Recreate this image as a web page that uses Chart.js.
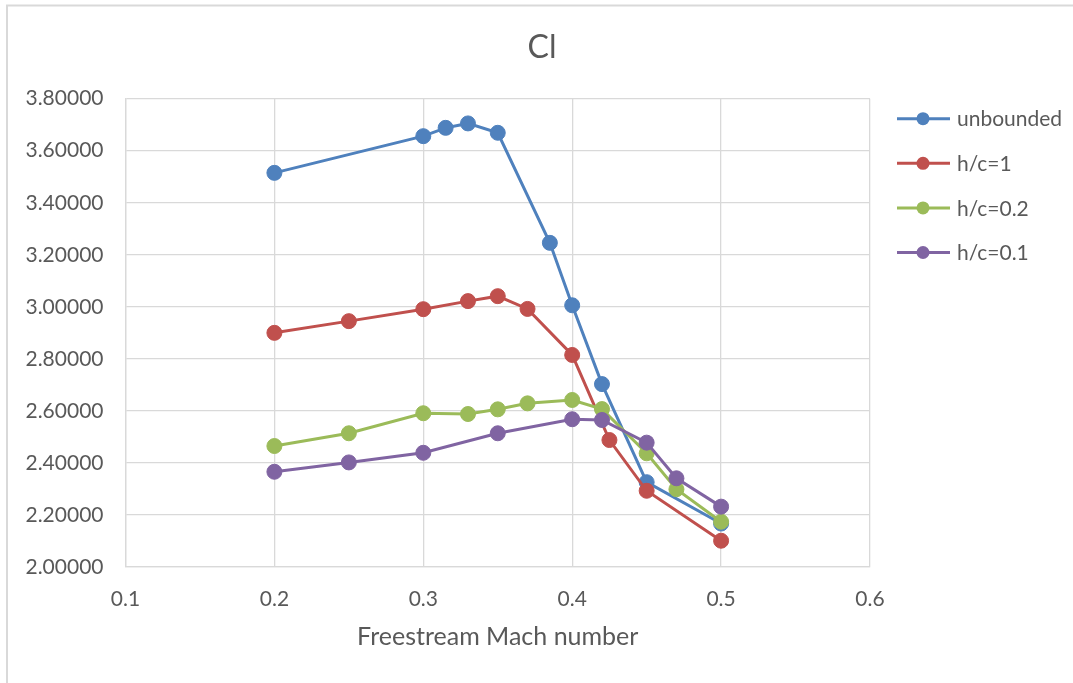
<!DOCTYPE html>
<html>
<head>
<meta charset="utf-8">
<title>Cl</title>
<script src="https://cdn.jsdelivr.net/npm/chart.js@4.4.1/dist/chart.umd.min.js"></script>
<style>
    html, body { margin: 0; padding: 0; background: #fff; }
    #canvas1 { display: block; }
</style>
</head>
<body>
<canvas id="canvas1" width="1073" height="683"></canvas>
<script>
// values
const seriesNames = ['unbounded', 'h/c=1', 'h/c=0.2', 'h/c=0.1'];

const machUnbounded = [0.2, 0.3, 0.315, 0.33, 0.35, 0.385, 0.4, 0.42, 0.45, 0.5];
const clUnbounded = [3.515, 3.656, 3.688, 3.705, 3.669, 3.246, 3.006, 2.703, 2.326, 2.167];

const machHc1 = [0.2, 0.25, 0.3, 0.33, 0.35, 0.37, 0.4, 0.425, 0.45, 0.5];
const clHc1 = [2.900, 2.945, 2.991, 3.022, 3.041, 2.992, 2.815, 2.488, 2.293, 2.101];

const machHc02 = [0.2, 0.25, 0.3, 0.33, 0.35, 0.37, 0.4, 0.42, 0.45, 0.47, 0.5];
const clHc02 = [2.465, 2.514, 2.591, 2.588, 2.606, 2.629, 2.642, 2.607, 2.437, 2.299, 2.174];

const machHc01 = [0.2, 0.25, 0.3, 0.35, 0.4, 0.42, 0.45, 0.47, 0.5];
const clHc01 = [2.366, 2.402, 2.439, 2.514, 2.568, 2.565, 2.478, 2.341, 2.232];

const xTicks = [0.1, 0.2, 0.3, 0.4, 0.5, 0.6];
const yTicks = [2.0, 2.2, 2.4, 2.6, 2.8, 3.0, 3.2, 3.4, 3.6, 3.8];

const colors = ['#4f81bd', '#c0504d', '#9bbb59', '#8064a2'];
const textColor = '#595959';
const gridColor = '#d9d9d9';
const fontName = 'Lato, Carlito, "Open Sans", sans-serif';

function toPoints(xs, ys) {
    return xs.map(function (x, i) { return { x: x, y: ys[i] }; });
}

function makeDataset(i, xs, ys) {
    return {
        label: seriesNames[i],
        data: toPoints(xs, ys),
        showLine: true,
        borderColor: colors[i],
        backgroundColor: colors[i],
        borderWidth: 3,
        pointRadius: 7.5,
        pointHoverRadius: 7.5,
        pointBorderWidth: 1,
        order: 3 - i
    };
}

// frame around the whole chart (only left and top edges are inside the picture)
const frame = {
    id: 'frame',
    beforeDraw(chart) {
        const ctx = chart.ctx;
        ctx.save();
        ctx.strokeStyle = gridColor;
        ctx.lineWidth = 2;
        ctx.strokeRect(7, 5.5, chart.width + 20, chart.height + 20);
        ctx.restore();
    }
};

// legend drawn to the right of the plot: line + marker + name
const sideLegend = {
    id: 'sideLegend',
    afterDraw(chart) {
        const ctx = chart.ctx;
        const area = chart.chartArea;
        const x0 = area.right + 27;
        const y0 = area.top + 20;
        ctx.save();
        ctx.font = '21px ' + fontName;
        ctx.textBaseline = 'middle';
        ctx.textAlign = 'left';
        chart.data.datasets.forEach(function (ds, i) {
            const y = y0 + i * 44.6;
            ctx.strokeStyle = ds.borderColor;
            ctx.lineWidth = 3;
            ctx.beginPath();
            ctx.moveTo(x0, y);
            ctx.lineTo(x0 + 53, y);
            ctx.stroke();
            ctx.fillStyle = ds.backgroundColor;
            ctx.beginPath();
            ctx.arc(x0 + 26, y, 6.5, 0, Math.PI * 2);
            ctx.fill();
            ctx.fillStyle = textColor;
            ctx.fillText(ds.label, x0 + 60, y + 1);
        });
        ctx.restore();
    }
};

function VeBieuDo() {
    const data = {
        datasets: [
            makeDataset(0, machUnbounded, clUnbounded),
            makeDataset(1, machHc1, clHc1),
            makeDataset(2, machHc02, clHc02),
            makeDataset(3, machHc01, clHc01)
        ]
    };

    const config = {
        type: 'scatter',
        data: data,
        options: {
            responsive: false,
            animation: false,
            devicePixelRatio: 1,
            layout: { padding: { left: 11, right: 0, top: 0, bottom: 0 } },
            plugins: {
                legend: { display: false },
                tooltip: { enabled: false },
                title: {
                    display: true,
                    text: 'Cl',
                    color: textColor,
                    font: { family: fontName, size: 32, weight: 'normal' },
                    padding: { top: 28, bottom: 32.3 }
                }
            },
            scales: {
                x: {
                    type: 'linear',
                    min: xTicks[0],
                    max: xTicks[xTicks.length - 1],
                    afterBuildTicks: function (scale) {
                        scale.ticks = xTicks.map(function (v) { return { value: v }; });
                    },
                    afterFit: function (scale) { scale.height = 116; },
                    grid: { color: gridColor, lineWidth: 1.3, drawTicks: false },
                    border: { display: true, color: gridColor, width: 1.3 },
                    ticks: {
                        color: textColor,
                        padding: 20,
                        font: { family: fontName, size: 21 },
                        callback: function (v) { return Number(v).toFixed(1); }
                    },
                    title: {
                        display: true,
                        text: 'Freestream Mach number',
                        color: textColor,
                        font: { family: fontName, size: 25 },
                        padding: { top: 0, bottom: 31 }
                    }
                },
                y: {
                    type: 'linear',
                    position: 'left',
                    min: yTicks[0],
                    max: yTicks[yTicks.length - 1],
                    afterBuildTicks: function (scale) {
                        scale.ticks = yTicks.map(function (v) { return { value: v }; });
                    },
                    afterFit: function (scale) { scale.width = 114.5; },
                    grid: { color: gridColor, lineWidth: 1.3, drawTicks: false },
                    border: { display: true, color: gridColor, width: 1.3 },
                    ticks: {
                        color: textColor,
                        padding: 22,
                        font: { family: fontName, size: 21 },
                        callback: function (v) { return Number(v).toFixed(5); }
                    }
                },
                // empty axis that keeps room on the right for the legend
                spacer: {
                    type: 'linear',
                    position: 'right',
                    display: true,
                    afterFit: function (scale) { scale.width = 203; },
                    grid: { display: false, drawTicks: false },
                    border: { display: false },
                    ticks: { display: false }
                }
            }
        },
        plugins: [frame, sideLegend]
    };

    const canvas = document.getElementById('canvas1');
    const chart = new Chart(canvas, config);
    return chart;
}

VeBieuDo();
</script>
</body>
</html>
